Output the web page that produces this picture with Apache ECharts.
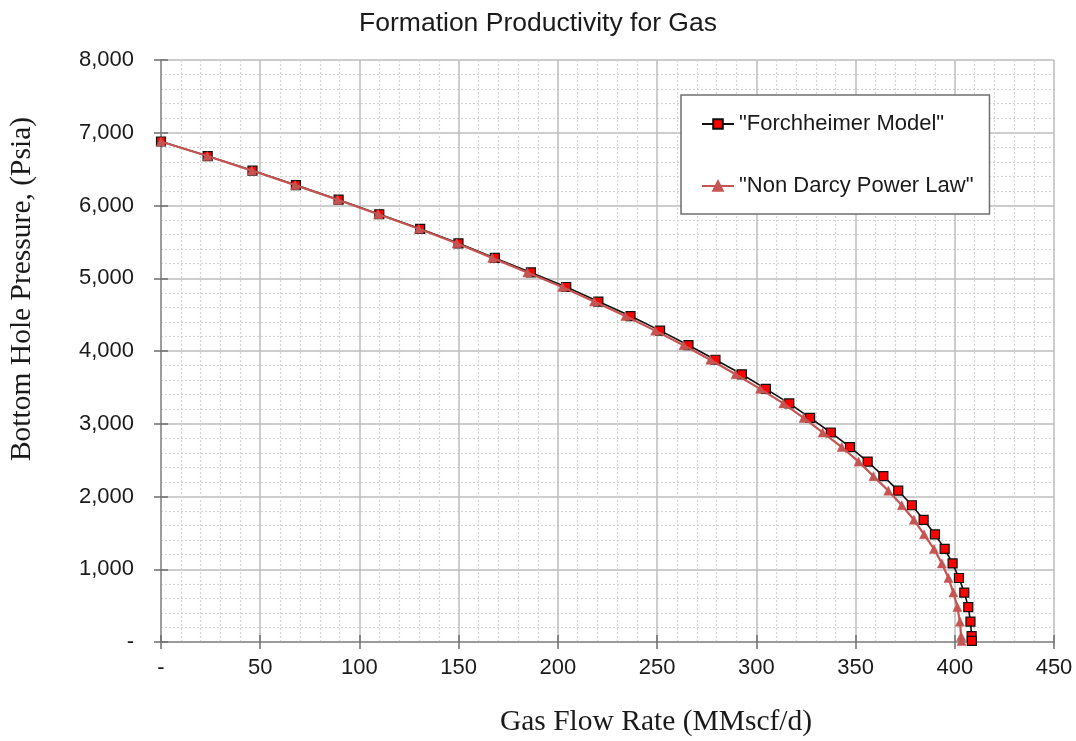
<!DOCTYPE html>
<html>
<head>
<meta charset="utf-8">
<title>Formation Productivity for Gas</title>
<script src="https://cdn.jsdelivr.net/npm/echarts@6/dist/echarts.min.js"></script>
<style>
  html, body { margin: 0; padding: 0; background: #ffffff; }
  #chart { width: 1076px; height: 741px; }
</style>
</head>
<body>
<div id="chart"></div>
<script>
// Bottom hole flowing pressure (psia) for each computed point
const pressure = [
  6880, 6680, 6480, 6280, 6080, 5880, 5680, 5480, 5280, 5080,
  4880, 4680, 4480, 4280, 4080, 3880, 3680, 3480, 3280, 3080,
  2880, 2680, 2480, 2280, 2080, 1880, 1680, 1480, 1280, 1080,
  880, 680, 480, 280, 80, 14.7
];

// Gas rate (MMscf/d), Forchheimer deliverability model
const forchheimerRate = [
  0, 23.5, 46.1, 68.0, 89.5, 110.0, 130.6, 149.9, 168.2, 186.4,
  204.2, 220.4, 236.6, 251.5, 265.8, 279.4, 292.7, 304.8, 316.6, 327.1,
  337.5, 347.2, 356.1, 364.0, 371.5, 378.4, 384.3, 390.0, 394.9, 398.9,
  402.1, 404.8, 406.8, 407.9, 408.5, 408.6
];

// Gas rate (MMscf/d), non-Darcy power law
const nonDarcyRate = [
  0, 23.3, 45.8, 67.6, 89.0, 109.4, 129.9, 149.0, 166.9, 184.6,
  202.2, 218.2, 234.0, 249.0, 263.3, 276.8, 289.5, 301.9, 313.6, 323.8,
  333.4, 343.0, 351.5, 359.0, 366.5, 373.3, 379.4, 384.5, 389.5, 393.5,
  396.8, 399.3, 401.3, 402.6, 403.2, 403.4
];

const seriesNames = ['"Forchheimer Model"', '"Non Darcy Power Law"'];

// Axis ranges and tick spacing
const xRange = { min: 0, max: 450, interval: 50 };
const yRange = { min: 0, max: 8000, interval: 1000 };

const sansFont = '"Liberation Sans", Arial, sans-serif';
const serifFont = '"Liberation Serif", "Times New Roman", serif';

// Zero shown as a dash, thousands with commas
function tickLabel(v) {
  return v === 0 ? '-' : v.toLocaleString('en-US');
}

const majorLine = { color: '#bdbdbd', width: 1.5 };
const minorLine = { color: '#d4d4d4', width: 1.2, type: [2, 2] };
const axisDark = { color: '#8c8c8c', width: 1.5 };

function mainAxis(range, isX) {
  return {
    type: 'value',
    min: range.min,
    max: range.max,
    interval: range.interval,
    axisLine: { show: true, onZero: false, lineStyle: axisDark },
    axisTick: { show: true, inside: false, length: 7, lineStyle: { color: '#6e6e6e', width: 1.5 } },
    axisLabel: {
      formatter: tickLabel,
      fontFamily: sansFont,
      fontSize: 22,
      color: '#1a1a1a',
      margin: isX ? 15 : 27
    },
    splitLine: { show: true, lineStyle: majorLine },
    minorTick: { show: false, splitNumber: 5 },
    minorSplitLine: { show: true, lineStyle: minorLine }
  };
}

// Second copy of each axis draws the inner half of the crossing tick marks
function tickAxis(range) {
  return {
    type: 'value',
    min: range.min,
    max: range.max,
    interval: range.interval,
    axisLine: { show: false },
    axisTick: { show: true, inside: true, length: 7, lineStyle: { color: '#6e6e6e', width: 1.5 } },
    axisLabel: { show: false },
    splitLine: { show: false }
  };
}

const chart = echarts.init(document.getElementById('chart'), null, { renderer: 'canvas' });

chart.setOption({
  backgroundColor: '#ffffff',
  animation: false,
  title: {
    text: 'Formation Productivity for Gas',
    left: 'center',
    top: 5,
    textStyle: { fontFamily: sansFont, fontSize: 26.5, fontWeight: 'normal', color: '#1a1a1a' }
  },
  grid: { left: 161, right: 22, top: 60, bottom: 99, containLabel: false },
  xAxis: [
    Object.assign(mainAxis(xRange, true), { position: 'bottom' }),
    Object.assign(tickAxis(xRange), { position: 'bottom' })
  ],
  yAxis: [
    Object.assign(mainAxis(yRange, false), { position: 'left' }),
    Object.assign(tickAxis(yRange), { position: 'left' })
  ],
  legend: {
    orient: 'vertical',
    left: 681,
    top: 95,
    padding: [18, 16, 17, 20],
    itemGap: 40,
    itemWidth: 32,
    itemHeight: 12,
    backgroundColor: '#ffffff',
    borderColor: '#6f6f6f',
    borderWidth: 1.5,
    borderRadius: 0,
    textStyle: { fontFamily: sansFont, fontSize: 22, color: '#1a1a1a' },
    data: seriesNames
  },
  graphic: [
    {
      type: 'text',
      x: 22,
      y: 289,
      rotation: Math.PI / 2,
      style: {
        text: 'Bottom Hole Pressure, (Psia)',
        font: '29.5px ' + serifFont,
        fill: '#1a1a1a',
        align: 'center',
        verticalAlign: 'middle'
      }
    },
    {
      type: 'text',
      x: 656,
      y: 722,
      style: {
        text: 'Gas Flow Rate (MMscf/d)',
        font: '29.5px ' + serifFont,
        fill: '#1a1a1a',
        align: 'center',
        verticalAlign: 'middle'
      }
    }
  ],
  series: [
    {
      name: seriesNames[0],
      type: 'line',
      xAxisIndex: 0,
      yAxisIndex: 0,
      data: pressure.map((p, i) => [forchheimerRate[i], p]),
      symbol: 'rect',
      symbolSize: 9,
      showAllSymbol: true,
      lineStyle: { color: '#111111', width: 1.6 },
      itemStyle: { color: '#ff0000', borderColor: '#111111', borderWidth: 1.2 },
      z: 3
    },
    {
      name: seriesNames[1],
      type: 'line',
      xAxisIndex: 0,
      yAxisIndex: 0,
      data: pressure.map((p, i) => [nonDarcyRate[i], p]),
      symbol: 'triangle',
      symbolSize: 9,
      showAllSymbol: true,
      lineStyle: { color: '#c55552', width: 2.2 },
      itemStyle: { color: '#c55552', borderColor: '#c55552', borderWidth: 0.5 },
      z: 4
    }
  ]
});
</script>
</body>
</html>
